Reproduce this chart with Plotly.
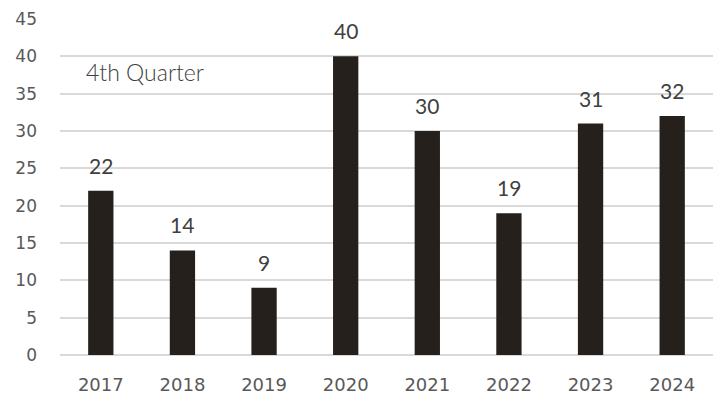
import plotly.graph_objects as go

years = [2017, 2018, 2019, 2020, 2021, 2022, 2023, 2024]
values = [22, 14, 9, 40, 30, 19, 31, 32]
y_ticks = [0, 5, 10, 15, 20, 25, 30, 35, 40, 45]

fig = go.Figure()
fig.add_trace(go.Bar(
    x=years, y=values,
    marker=dict(color="#25201b", line=dict(width=0)),
    width=0.31,
))

for yr, v in zip(years, values):
    fig.add_annotation(x=yr, y=v, text=str(v), showarrow=False,
                       yanchor="bottom", yshift=11,
                       font=dict(family="Lato", size=21, color="#404040"))

fig.add_annotation(xref="paper", yref="paper", x=0.036, y=0.842,
                   xanchor="left", yanchor="middle", text="4th Quarter",
                   showarrow=False,
                   font=dict(family="Lato", size=23, color="#404040",
                             weight=300))

fig.update_layout(
    width=715, height=400,
    margin=dict(l=60, r=2, t=19, b=45),
    paper_bgcolor="white", plot_bgcolor="white",
    showlegend=False,
)
fig.update_xaxes(type="linear", range=[2016.5, 2024.5], tickvals=years,
                 ticktext=[str(y) for y in years],
                 showgrid=False, showline=False, ticks="", zeroline=False,
                 tickfont=dict(family="DejaVu Sans", size=18, color="#595959"),
                 ticklabelstandoff=17)
fig.update_yaxes(range=[0, 45], tickvals=y_ticks, showgrid=True,
                 gridcolor="#d9d9d9", gridwidth=1.5, zeroline=True,
                 zerolinecolor="#d9d9d9", zerolinewidth=1.5,
                 showline=False, ticks="",
                 tickfont=dict(family="DejaVu Sans", size=17, color="#595959"),
                 ticklabelstandoff=22)

fig.write_html("out.html")
